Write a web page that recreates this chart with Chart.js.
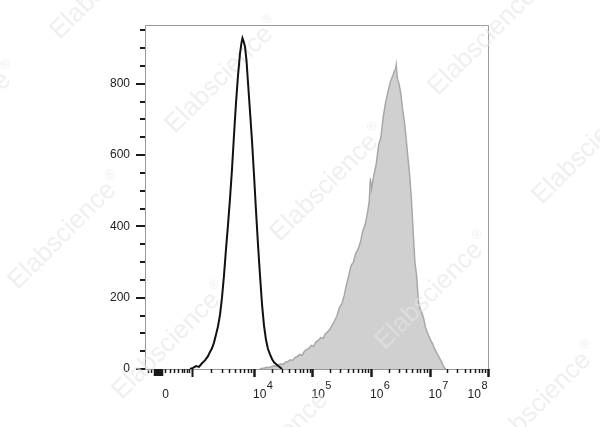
<!DOCTYPE html>
<html>
<head>
<meta charset="utf-8">
<script src="https://cdn.jsdelivr.net/npm/chart.js@4.4.0/dist/chart.umd.min.js"></script>
<style>
html, body { margin: 0; padding: 0; background: #fff; }
</style>
</head>
<body>
<canvas id="flow" width="600" height="427"></canvas>
<script>
// x values are positions on the display axis in decades (4 = 10^4 ... 8 = 10^8)
let unstainedPos = [2.906, 2.957, 3.009, 3.060, 3.111, 3.162, 3.214, 3.248, 3.282, 3.316,
  3.350, 3.385, 3.419, 3.453, 3.487, 3.521, 3.556, 3.590, 3.624, 3.658,
  3.692, 3.726, 3.761, 3.786, 3.803, 3.821, 3.846, 3.872, 3.897, 3.932,
  3.966, 4.000, 4.034, 4.068, 4.103, 4.137, 4.171, 4.205, 4.239, 4.274,
  4.308, 4.342, 4.376, 4.410, 4.444, 4.479];
let unstainedCount = [0, 3, 8, 6, 16, 24, 36, 48, 58, 74,
  96, 120, 152, 200, 262, 335, 405, 478, 560, 655,
  745, 822, 885, 915, 928, 920, 905, 865, 805, 722,
  640, 545, 445, 350, 262, 182, 122, 82, 56, 41,
  28, 19, 14, 9, 5, 0];

let stainedPos = [4.10, 4.14, 4.18, 4.22, 4.26, 4.30, 4.34, 4.38, 4.42, 4.46,
  4.50, 4.54, 4.58, 4.62, 4.66, 4.70, 4.74, 4.78, 4.82, 4.86,
  4.90, 4.94, 4.98, 5.02, 5.06, 5.10, 5.14, 5.18, 5.22, 5.26,
  5.30, 5.34, 5.38, 5.42, 5.46, 5.50, 5.54, 5.58, 5.62, 5.66,
  5.70, 5.74, 5.78, 5.82, 5.86, 5.90, 5.94, 5.97, 5.99, 6.01,
  6.05, 6.09, 6.13, 6.17, 6.21, 6.25, 6.29, 6.33, 6.36, 6.38,
  6.40, 6.42, 6.43, 6.45, 6.48, 6.51, 6.54, 6.57, 6.60, 6.63,
  6.66, 6.69, 6.72, 6.75, 6.78, 6.81, 6.84, 6.87, 6.90, 6.93,
  6.96, 6.99, 7.02, 7.05, 7.08, 7.11, 7.14, 7.17, 7.20, 7.23,
  7.26, 7.28];
let stainedCount = [0, 2, 3, 5, 4, 7, 9, 8, 12, 14,
  13, 19, 21, 26, 24, 32, 35, 41, 38, 49,
  55, 58, 66, 64, 76, 80, 88, 86, 99, 104,
  113, 124, 136, 150, 172, 182, 205, 236, 262, 290,
  300, 325, 336, 356, 388, 405, 438, 470, 535, 505,
  545, 575, 628, 650, 708, 748, 778, 805, 818, 826,
  836, 842, 853, 815, 800, 772, 728, 695, 648, 595,
  545, 478, 388, 300, 262, 190, 168, 158, 142, 118,
  104, 92, 80, 72, 59, 50, 40, 31, 22, 11,
  3, 0];

let yTickValues = [0, 50, 100, 150, 200, 250, 300, 350, 400, 450, 500, 550, 600, 650, 700, 750, 800, 850, 900, 950];
let yLabelValues = [0, 200, 400, 600, 800];

let xLabelPos = [2.49, 4, 5, 6, 7, 8];
let xLabelExp = ['', '4', '5', '6', '7', '8'];
let xMajorTicks = [2.94, 4, 5, 6, 7, 8];
let xDenseTicks = [2.291, 2.308, 2.325, 2.342, 2.359, 2.376, 2.393, 2.410, 2.427];
let xLinearTicks = [2.180, 2.239, 2.487, 2.564, 2.641, 2.709, 2.769, 2.812, 2.855, 2.897];

let xMin = 2.137, xMax = 8.017;
let yMax = 965;

// log minor ticks for each decade
let xMinorTicks = [];
for (let d = 0; d < xMajorTicks.length - 1; d++) {
  let start = xMajorTicks[d], span = xMajorTicks[d + 1] - start;
  for (let k = 2; k <= 9; k++) xMinorTicks.push(start + Math.log10(k) * span);
}

function toXY(xs, ys) {
  return xs.map((x, i) => ({ x: x, y: ys[i] }));
}

const FONT = 'Arial, "Liberation Sans", sans-serif';

let marks = [
  [110, -20], [225, 74], [-37, 120], [488, 36], [68, 230], [330, 182],
  [592, 145], [172, 340], [435, 290], [280, 440], [543, 400]
];

let flowDecor = {
  id: 'flowDecor',
  beforeDatasetsDraw(chart) {
    const ctx = chart.ctx, a = chart.chartArea;
    const xs = chart.scales.x, ys = chart.scales.y;
    ctx.save();
    // top / right frame
    ctx.strokeStyle = '#9a9a9a';
    ctx.lineWidth = 1;
    ctx.beginPath();
    ctx.moveTo(a.left, a.top + 0.5);
    ctx.lineTo(a.right - 0.5, a.top + 0.5);
    ctx.lineTo(a.right - 0.5, a.bottom);
    ctx.stroke();

    ctx.strokeStyle = '#1a1a1a';
    // y ticks
    ctx.lineWidth = 2;
    yTickValues.forEach(v => {
      let py = Math.round(ys.getPixelForValue(v));
      let len = yLabelValues.includes(v) ? 9 : 5;
      ctx.beginPath();
      ctx.moveTo(a.left - len, py);
      ctx.lineTo(a.left, py);
      ctx.stroke();
    });
    // x ticks
    function xt(list, len, w) {
      ctx.lineWidth = w;
      list.forEach(v => {
        let px = Math.round(xs.getPixelForValue(v)) + 0.5;
        ctx.beginPath();
        ctx.moveTo(px, a.bottom);
        ctx.lineTo(px, a.bottom + len);
        ctx.stroke();
      });
    }
    xt(xMinorTicks, 4, 1.5);
    xt(xLinearTicks, 4, 1.5);
    xt(xDenseTicks, 7, 1.5);
    xt(xMajorTicks.slice(1), 8, 2.5);
    xt([xMajorTicks[0]], 8, 2);

    // x labels
    ctx.fillStyle = '#222';
    ctx.textBaseline = 'alphabetic';
    xLabelPos.forEach((v, i) => {
      let px = xs.getPixelForValue(v);
      ctx.font = '12px ' + FONT;
      if (xLabelExp[i] === '') {
        ctx.textAlign = 'center';
        ctx.fillText('0', px, 398);
        return;
      }
      let w10 = ctx.measureText('10').width;
      ctx.font = '11px ' + FONT;
      let wExp = ctx.measureText(xLabelExp[i]).width;
      let start = (i === xLabelPos.length - 1) ? px - w10 - wExp - 1 : px - 1;
      ctx.textAlign = 'left';
      ctx.font = '12px ' + FONT;
      ctx.fillText('10', start, 398);
      ctx.font = '11px ' + FONT;
      ctx.fillText(xLabelExp[i], start + w10 + 0.5, 389);
    });
    ctx.restore();
  },
  beforeDatasetDraw(chart, args) {
    if (args.index !== 0) return;
    const ctx = chart.ctx;
    ctx.save();
    ctx.fillStyle = 'rgba(228,228,228,0.6)';
    ctx.textBaseline = 'middle';
    ctx.textAlign = 'left';
    marks.forEach(m => {
      ctx.save();
      ctx.translate(m[0], m[1]);
      ctx.rotate(-Math.PI / 4);
      ctx.font = '26px ' + FONT;
      let w = ctx.measureText('Elabscience').width;
      ctx.fillText('Elabscience', -w / 2 - 8, 0);
      ctx.font = '13px ' + FONT;
      ctx.fillText('\u00ae', w / 2 - 6, -9);
      ctx.restore();
    });
    ctx.restore();
  }
};

new Chart('flow', {
  type: 'line',
  data: {
    datasets: [
      {
        label: 'unstained',
        data: toXY(unstainedPos, unstainedCount),
        borderColor: '#111',
        borderWidth: 2,
        pointRadius: 0,
        fill: false,
        tension: 0
      },
      {
        label: 'stained',
        data: toXY(stainedPos, stainedCount),
        borderColor: '#a8a8a8',
        backgroundColor: '#d0d0d0',
        borderWidth: 1.5,
        pointRadius: 0,
        fill: 'origin',
        tension: 0
      }
    ]
  },
  options: {
    responsive: false,
    animation: false,
    layout: { padding: { top: 25, right: 111, left: 0, bottom: 0 } },
    plugins: { legend: { display: false }, tooltip: { enabled: false } },
    scales: {
      x: {
        type: 'linear',
        min: xMin,
        max: xMax,
        grid: { display: false, drawTicks: false },
        border: { display: true, color: '#9a9a9a', width: 1 },
        ticks: { display: false },
        afterFit(s) { s.height = 58; }
      },
      y: {
        min: 0,
        max: yMax,
        grid: { display: false, drawTicks: false },
        border: { display: true, color: '#9a9a9a', width: 1 },
        ticks: {
          stepSize: 50,
          padding: 15,
          color: '#222',
          font: { family: FONT, size: 12 },
          callback: v => yLabelValues.includes(v) ? String(v) : ''
        },
        afterFit(s) { s.width = 145; }
      }
    }
  },
  plugins: [flowDecor]
});
</script>
</body>
</html>
